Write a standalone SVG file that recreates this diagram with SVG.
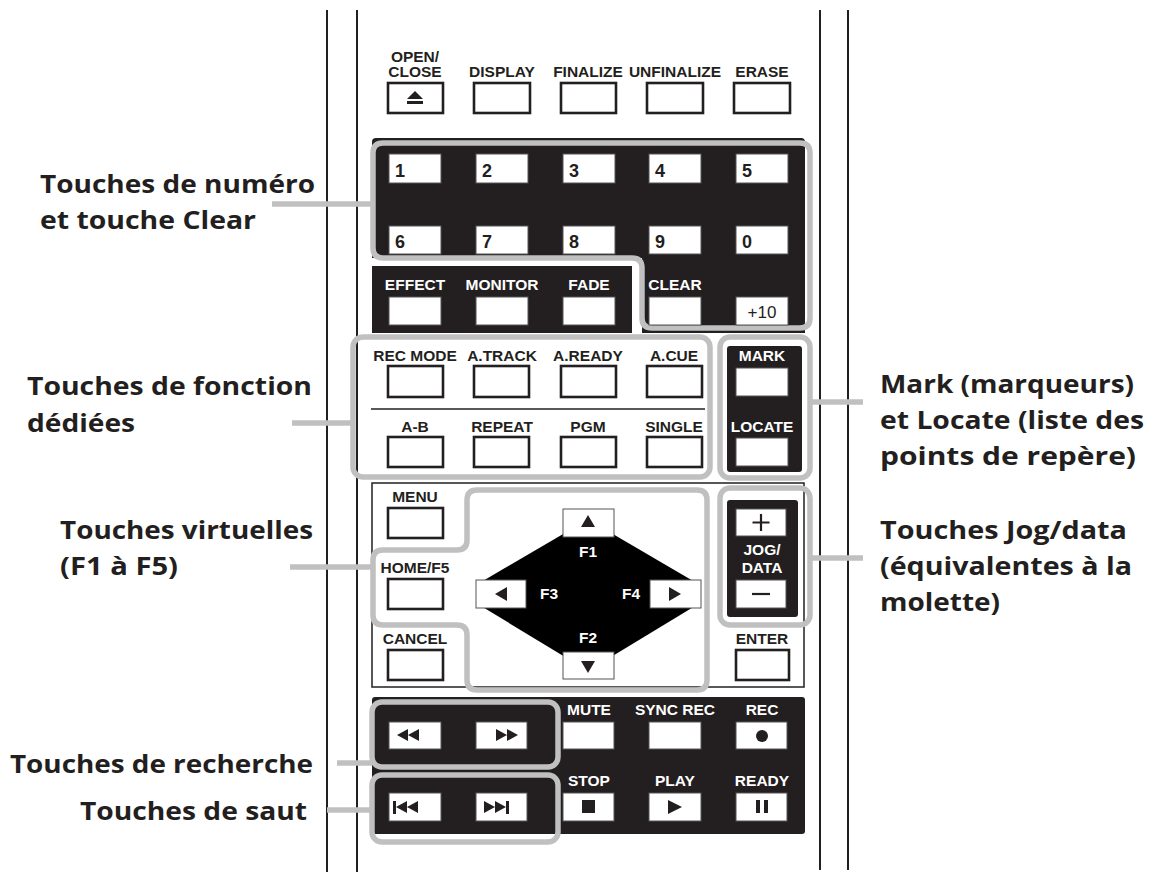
<svg xmlns="http://www.w3.org/2000/svg" width="1157" height="879" viewBox="0 0 1157 879">
<style>
.b{fill:#fff;stroke:#231f20;stroke-width:2.6}
.w{fill:#fff;stroke:#555;stroke-width:1}
.d{fill:#231f20}
.hl{fill:none;stroke:#c0c0c0;stroke-width:5.5;stroke-linejoin:round}
.ln{stroke:#c0c0c0;stroke-width:5.5}
.t{font-family:"Liberation Sans",Arial,sans-serif;font-weight:bold;font-size:15.5px;fill:#231f20;text-anchor:middle}
.tw{font-family:"Liberation Sans",Arial,sans-serif;font-weight:bold;font-size:15.5px;fill:#fff;text-anchor:middle}
.n{font-family:"Liberation Sans",Arial,sans-serif;font-weight:bold;font-size:18px;fill:#231f20}
.c{font-family:"Open Sans","Liberation Sans",sans-serif;font-weight:bold;font-size:25px;fill:#231f20}
.k{stroke:#231f20;stroke-width:2;fill:none}
</style>
<rect width="1157" height="879" fill="#fff"/>
<g id="body">
<line x1="327" y1="10" x2="327" y2="872" class="k"/>
<line x1="357" y1="10" x2="357" y2="872" class="k"/>
<line x1="820" y1="10" x2="820" y2="870" class="k"/>
<line x1="848" y1="10" x2="848" y2="870" class="k"/>
<rect x="372" y="483" width="432" height="204" fill="none" stroke="#231f20" stroke-width="1.5"/>
<path class="d" d="M376,138 H801 Q805,138 805,142 V333 H372 V142 Q372,138 376,138Z"/>
<rect x="632" y="262" width="10" height="75" fill="#fff"/>
<rect x="372" y="258" width="270" height="8" fill="#fff"/>
<rect x="372" y="697" width="433" height="137" rx="3" class="d"/>
</g>
<g id="top-buttons">
<text x="415" y="62" class="t">OPEN/</text><text x="415" y="77" class="t">CLOSE</text>
<rect x="388" y="83" width="55" height="30" class="b"/>
<path d="M415,91 l8,8 h-16z M407,101 h16 v3 h-16z" fill="#231f20"/>
<text x="502" y="77" class="t">DISPLAY</text><rect x="474" y="83" width="56" height="30" class="b"/>
<text x="588" y="77" class="t">FINALIZE</text><rect x="561" y="83" width="55" height="30" class="b"/>
<text x="675" y="77" class="t">UNFINALIZE</text><rect x="647" y="83" width="56" height="30" class="b"/>
<text x="762" y="77" class="t">ERASE</text><rect x="734" y="83" width="56" height="30" class="b"/>
</g>
<g id="number-keys">
<path class="hl" d="M383,143 H800 Q810,143 810,153 V318 Q810,328 800,328 H652 Q642,328 642,318 V268 Q642,258 632,258 H383 Q373,258 373,248 V153 Q373,143 383,143Z"/>
<rect x="389" y="154" width="52" height="29" class="w"/><text x="395" y="177" class="n">1</text>
<rect x="476" y="154" width="52" height="29" class="w"/><text x="482" y="177" class="n">2</text>
<rect x="563" y="154" width="52" height="29" class="w"/><text x="569" y="177" class="n">3</text>
<rect x="649" y="154" width="52" height="29" class="w"/><text x="655" y="177" class="n">4</text>
<rect x="736" y="154" width="52" height="29" class="w"/><text x="742" y="177" class="n">5</text>
<rect x="389" y="226" width="52" height="28" class="w"/><text x="395" y="248" class="n">6</text>
<rect x="476" y="226" width="52" height="28" class="w"/><text x="482" y="248" class="n">7</text>
<rect x="563" y="226" width="52" height="28" class="w"/><text x="569" y="248" class="n">8</text>
<rect x="649" y="226" width="52" height="28" class="w"/><text x="655" y="248" class="n">9</text>
<rect x="736" y="226" width="52" height="28" class="w"/><text x="742" y="248" class="n">0</text>
<text x="675" y="290" class="tw">CLEAR</text><rect x="649" y="297" width="52" height="28" class="w"/>
<rect x="736" y="297" width="52" height="28" class="w"/><text x="762" y="318" class="t" style="font-size:17px;font-weight:normal">+10</text>
</g>
<g id="effect-keys">
<text x="415" y="290" class="tw">EFFECT</text><rect x="389" y="297" width="52" height="28" class="w"/>
<text x="502" y="290" class="tw">MONITOR</text><rect x="476" y="297" width="52" height="28" class="w"/>
<text x="589" y="290" class="tw">FADE</text><rect x="563" y="297" width="52" height="28" class="w"/>
</g>
<g id="function-keys">
<rect x="353" y="337" width="357" height="140" rx="10" class="hl" fill="#fff"/>
<text x="415" y="361" class="t">REC MODE</text><rect x="388" y="366" width="55" height="31" class="b"/>
<text x="502" y="361" class="t">A.TRACK</text><rect x="474" y="366" width="55" height="31" class="b"/>
<text x="588" y="361" class="t">A.READY</text><rect x="561" y="366" width="55" height="31" class="b"/>
<text x="674" y="361" class="t">A.CUE</text><rect x="647" y="366" width="55" height="31" class="b"/>
<line x1="371" y1="409" x2="705" y2="409" stroke="#231f20" stroke-width="1.5"/>
<text x="415" y="432" class="t">A-B</text><rect x="388" y="437" width="55" height="30" class="b"/>
<text x="502" y="432" class="t">REPEAT</text><rect x="474" y="437" width="55" height="30" class="b"/>
<text x="588" y="432" class="t">PGM</text><rect x="561" y="437" width="55" height="30" class="b"/>
<text x="674" y="432" class="t">SINGLE</text><rect x="647" y="437" width="55" height="30" class="b"/>
</g>
<g id="mark-locate">
<rect x="720" y="337" width="90" height="141" rx="10" class="hl"/>
<rect x="727" y="346" width="75" height="126" rx="3" class="d"/>
<text x="762" y="361" class="tw">MARK</text><rect x="736" y="368" width="52" height="28" class="w"/>
<text x="762" y="432" class="tw">LOCATE</text><rect x="736" y="438" width="52" height="28" class="w"/>
</g>
<g id="menu-keys">
<text x="415" y="502" class="t">MENU</text><rect x="388" y="508" width="55" height="30" class="b"/>
<path class="hl" d="M477,490 H697 Q707,490 707,500 V680 Q707,690 697,690 H477 Q467,690 467,680 V635 Q467,625 457,625 H383 Q373,625 373,615 V560 Q373,550 383,550 H457 Q467,550 467,540 V500 Q467,490 477,490Z"/>
<text x="415" y="573" class="t">HOME/F5</text><rect x="388" y="579" width="55" height="30" class="b"/>
<text x="415" y="644" class="t">CANCEL</text><rect x="388" y="650" width="55" height="30" class="b"/>
<polygon points="570,530 606,530 700,585 700,603 606,660 570,660 476,603 476,585" fill="#000"/>
<rect x="563" y="509" width="51" height="28" class="w"/><path d="M588,515 l7,12 h-14z" fill="#231f20"/>
<rect x="563" y="652" width="51" height="27" class="w"/><path d="M588,673 l7,-12 h-14z" fill="#231f20"/>
<rect x="476" y="580" width="50" height="28" class="w"/><path d="M495,594 l12,-7 v14z" fill="#231f20"/>
<rect x="650" y="580" width="51" height="28" class="w"/><path d="M681,594 l-12,-7 v14z" fill="#231f20"/>
<text x="588" y="557" class="tw">F1</text>
<text x="588" y="643" class="tw">F2</text>
<text x="549" y="599" class="tw">F3</text>
<text x="631" y="599" class="tw">F4</text>
<rect x="720" y="488" width="90" height="137" rx="10" class="hl"/>
<rect x="727" y="500" width="71" height="117" rx="3" class="d"/>
<rect x="736" y="509" width="50" height="27" class="w"/><path d="M761,514 v17 M752.5,522.5 h17" stroke="#231f20" stroke-width="2.2"/>
<text x="762" y="555" class="tw">JOG/</text><text x="762" y="573" class="tw">DATA</text>
<rect x="736" y="580" width="50" height="28" class="w"/><path d="M752,594 h18" stroke="#231f20" stroke-width="2.2"/>
<text x="762" y="644" class="t">ENTER</text><rect x="736" y="650" width="53" height="30" class="b"/>
</g>
<g id="transport">
<rect x="372" y="702" width="186" height="65" rx="10" class="hl"/>
<rect x="372" y="775" width="186" height="67" rx="10" class="hl"/>
<rect x="389" y="722" width="52" height="27" class="w"/><path d="M397,735 l11,-6 v12z M408,735 l11,-6 v12z" fill="#231f20"/>
<rect x="476" y="722" width="51" height="27" class="w"/><path d="M507,735 l-11,-6 v12z M518,735 l-11,-6 v12z" fill="#231f20"/>
<text x="589" y="715" class="tw">MUTE</text><rect x="563" y="722" width="51" height="27" class="w"/>
<text x="675" y="715" class="tw">SYNC REC</text><rect x="649" y="722" width="52" height="27" class="w"/>
<text x="762" y="715" class="tw">REC</text><rect x="736" y="722" width="51" height="27" class="w"/><circle cx="762" cy="736" r="6" fill="#231f20"/>
<rect x="389" y="793" width="52" height="28" class="w"/><path d="M393,801 h3 v13 h-3z M396,807 l11,-6 v12z M407,807 l11,-6 v12z" fill="#231f20"/>
<rect x="476" y="793" width="51" height="28" class="w"/><path d="M484,801 l11,6 l-11,6z M495,801 l11,6 l-11,6z M506,801 h3 v13 h-3z" fill="#231f20"/>
<text x="589" y="786" class="tw">STOP</text><rect x="563" y="793" width="51" height="28" class="w"/><rect x="582" y="800" width="13" height="13" fill="#231f20"/>
<text x="675" y="786" class="tw">PLAY</text><rect x="649" y="793" width="52" height="28" class="w"/><path d="M668,800 l14,7 l-14,7z" fill="#231f20"/>
<text x="762" y="786" class="tw">READY</text><rect x="736" y="793" width="51" height="28" class="w"/><path d="M756,800 h4 v13 h-4z M764,800 h4 v13 h-4z" fill="#231f20"/>
</g>
<g id="connectors">
<line x1="272" y1="204" x2="373" y2="204" class="ln"/>
<line x1="292" y1="423" x2="353" y2="423" class="ln"/>
<line x1="290" y1="567" x2="373" y2="567" class="ln"/>
<line x1="337" y1="763" x2="372" y2="763" class="ln"/>
<line x1="327" y1="810" x2="372" y2="810" class="ln"/>
<line x1="810" y1="402" x2="863" y2="402" class="ln"/>
<line x1="810" y1="558" x2="863" y2="558" class="ln"/>
</g>
<g id="labels">
<text x="40" y="193" class="c" textLength="275" lengthAdjust="spacingAndGlyphs">Touches de numéro</text>
<text x="40" y="229" class="c" textLength="216" lengthAdjust="spacingAndGlyphs">et touche Clear</text>
<text x="27" y="395" class="c" textLength="285" lengthAdjust="spacingAndGlyphs">Touches de fonction</text>
<text x="27" y="432" class="c" textLength="108" lengthAdjust="spacingAndGlyphs">dédiées</text>
<text x="60" y="539" class="c" textLength="253" lengthAdjust="spacingAndGlyphs">Touches virtuelles</text>
<text x="60" y="575" class="c" textLength="118" lengthAdjust="spacingAndGlyphs">(F1 à F5)</text>
<text x="10" y="773" class="c" textLength="303" lengthAdjust="spacingAndGlyphs">Touches de recherche</text>
<text x="80" y="820" class="c" textLength="227" lengthAdjust="spacingAndGlyphs">Touches de saut</text>
<text x="880" y="393" class="c" textLength="254" lengthAdjust="spacingAndGlyphs">Mark (marqueurs)</text>
<text x="880" y="429" class="c" textLength="264" lengthAdjust="spacingAndGlyphs">et Locate (liste des</text>
<text x="880" y="465" class="c" textLength="256" lengthAdjust="spacingAndGlyphs">points de repère)</text>
<text x="880" y="539" class="c" textLength="247" lengthAdjust="spacingAndGlyphs">Touches Jog/data</text>
<text x="880" y="575" class="c" textLength="252" lengthAdjust="spacingAndGlyphs">(équivalentes à la</text>
<text x="880" y="611" class="c" textLength="120" lengthAdjust="spacingAndGlyphs">molette)</text>
</g>
</svg>
